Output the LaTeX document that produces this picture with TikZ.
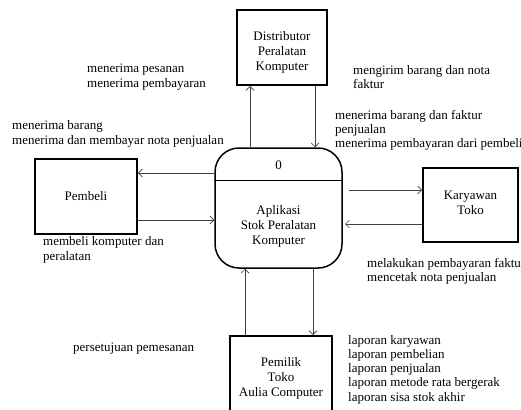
\documentclass[tikz,border=0pt]{standalone}
\usepackage{fontspec}
\setmainfont{Liberation Serif}
\usetikzlibrary{arrows.meta,calc}
\begin{document}
\begin{tikzpicture}[x=1pt,y=-1pt,
  ent/.style={draw=black,line width=1.6pt,align=center,inner sep=0pt,font=\fontsize{13}{15}\selectfont},
  txt/.style={align=center,inner sep=0pt,font=\fontsize{13}{15}\selectfont},
  proc/.style={draw=black,line width=1.5pt,rounded corners=24pt,inner sep=0pt},
  arr/.style={draw=black!75,line width=0.7pt,-{Straight Barb[length=4pt,width=8pt,line width=0.7pt]}},
  lbl/.style={anchor=west,align=left,inner sep=0pt,font=\fontsize{13}{14.3}\selectfont}]
\useasboundingbox (0,0) rectangle (521,409);
\fill[white] (0,0) rectangle (521,409);
\begin{scope}
\clip (0,0) rectangle (521,409);
\node[ent,minimum width=90pt,minimum height=75pt] (dist) at (282,47.5) {};
\node[txt] (distt) at (282,52) {Distributor\\Peralatan\\Komputer};
\node[proc,minimum width=127pt,minimum height=120pt] (proc) at (278.5,208) {};
\draw[line width=0.7pt] (proc.west |- 0,180) -- (proc.east |- 0,180);
\node[txt] (pnum) at (278.5,165) {0};
\node[txt] (ptxt) at (278.5,226) {Aplikasi\\Stok Peralatan\\Komputer};
\node[ent,minimum width=102pt,minimum height=75pt] (pemb) at (86,196.5) {Pembeli};
\node[ent,minimum width=95pt,minimum height=74pt] (kary) at (470.5,205) {};
\node[txt] (karyt) at (470.5,202.5) {Karyawan\\Toko};
\node[ent,minimum width=102pt,minimum height=90pt] (pemi) at (281,381) {};
\node[txt] (pemit) at (281,378) {Pemilik\\Toko\\Aulia Computer};
\end{scope}
% connectors
\draw[arr] (proc.north -| 250,0) -- (dist.south -| 250,0);
\draw[arr] (dist.south -| 315,0) -- (proc.north -| 315,0);
\draw[arr] (proc.west |- 0,173) -- (pemb.east |- 0,173);
\draw[arr] (pemb.east |- 0,220) -- (proc.west |- 0,220);
\coordinate (k1) at (349,190);
\coordinate (k2) at (345,224);
\draw[arr] (k1) -- (kary.west |- k1);
\draw[arr] (kary.west |- k2) -- (k2);
\draw[arr] (pemi.north -| 245,0) -- (proc.south -| 245,0);
\draw[arr] (proc.south -| 313,0) -- (pemi.north -| 313,0);
% labels
\begin{scope}
\clip (0,0) rectangle (521,409);
\node[lbl] (l1) at (87,77) {menerima pesanan\\menerima pembayaran};
\node[lbl] (l2) at (353,77) {mengirim barang dan nota\\faktur};
\node[lbl] (l3) at (335,130.5) {menerima barang dan faktur\\penjualan\\menerima pembayaran dari pembeli};
\node[lbl] (l4) at (12,134) {menerima barang\\menerima dan membayar nota penjualan};
\node[lbl] (l5) at (43,250) {membeli komputer dan\\peralatan};
\node[lbl] (l6) at (367,271) {melakukan pembayaran faktur\\mencetak nota penjualan};
\node[lbl] (l7) at (73,349) {persetujuan pemesanan};
\node[lbl] (l8) at (348,369.5) {laporan karyawan\\laporan pembelian\\laporan penjualan\\laporan metode rata bergerak\\laporan sisa stok akhir};
\end{scope}
\end{tikzpicture}
\end{document}
